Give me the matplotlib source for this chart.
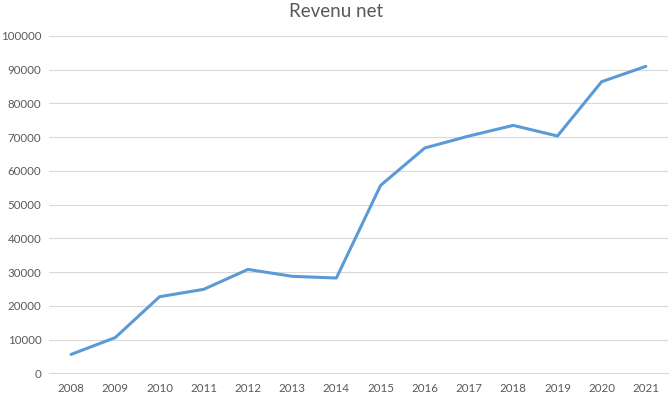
import matplotlib.pyplot as plt

# Data
years = ['2008', '2009', '2010', '2011', '2012', '2013', '2014',
         '2015', '2016', '2017', '2018', '2019', '2020', '2021']
revenue = [5600, 10600, 22700, 24900, 30800, 28750, 28250,
           55700, 66800, 70350, 73500, 70350, 86450, 91000]

text_color = '#595959'
grid_color = '#D9D9D9'
line_color = '#5B9BD5'

plt.rcParams['font.family'] = ['Lato', 'DejaVu Sans']

fig = plt.figure(figsize=(6.72, 3.99), dpi=100)
ax = fig.add_axes([0.0729, 0.0644, 0.9211, 0.8454])

x = range(len(years))
ax.plot(x, revenue, color=line_color, linewidth=2.2, solid_capstyle='round',
        solid_joinstyle='round', zorder=3)

ax.set_xlim(-0.5, len(years) - 0.5)
ax.set_ylim(0, 100000)
ax.set_yticks(range(0, 100001, 10000))
ax.set_yticklabels([str(v) for v in range(0, 100001, 10000)])
ax.set_xticks(list(x))
ax.set_xticklabels(years)

ax.grid(axis='y', color=grid_color, linewidth=0.8)
ax.set_axisbelow(True)
for side in ['top', 'right', 'left']:
    ax.spines[side].set_visible(False)
ax.spines['bottom'].set_color(grid_color)
ax.spines['bottom'].set_linewidth(0.8)
ax.tick_params(axis='both', length=0, labelsize=8.3, colors=text_color)
ax.tick_params(axis='y', pad=5.5)
ax.tick_params(axis='x', pad=7)

fig.text(0.5, 0.97, 'Revenu net', ha='center', va='center',
         fontsize=13.5, color=text_color)

fig.savefig('out.png', dpi=100)
